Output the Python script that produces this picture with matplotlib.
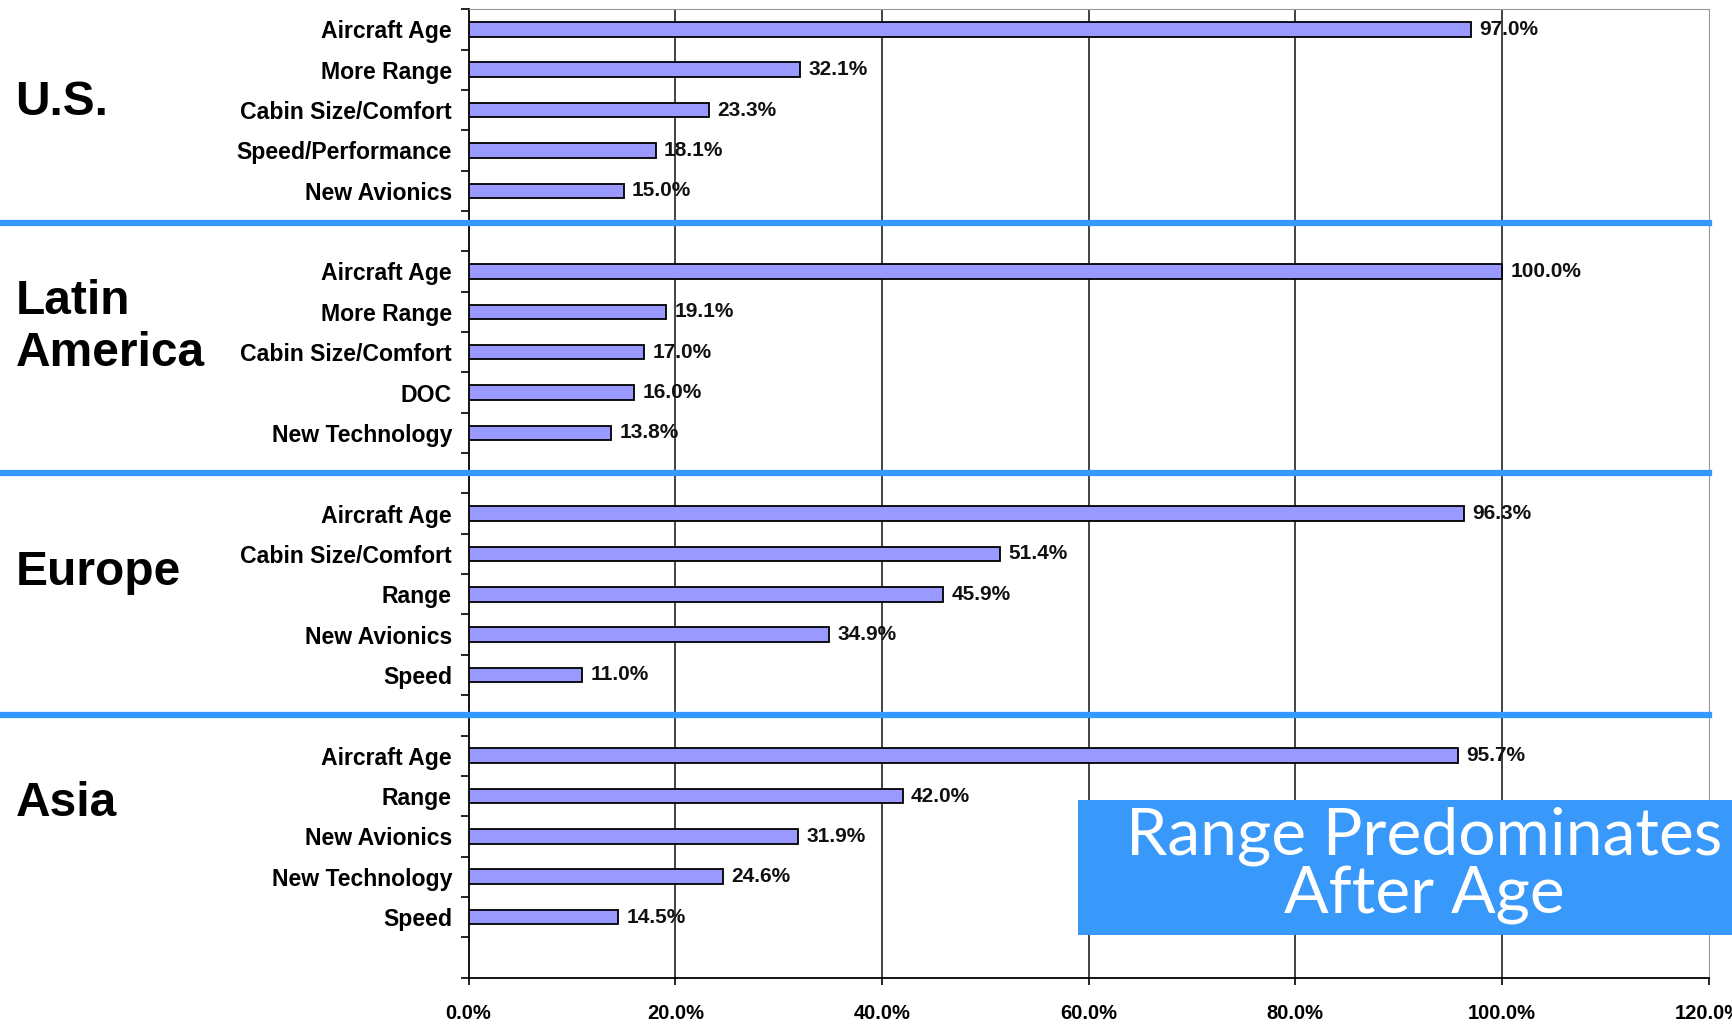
import matplotlib
matplotlib.use('Agg')
import matplotlib.pyplot as plt
import matplotlib.transforms as mtransforms
from matplotlib.patches import Rectangle

# Data
regions = ['U.S.', 'Latin\nAmerica', 'Europe', 'Asia']

us_labels = ['Aircraft Age', 'More Range', 'Cabin Size/Comfort', 'Speed/Performance', 'New Avionics']
us_values = [97.0, 32.1, 23.3, 18.1, 15.0]

latam_labels = ['Aircraft Age', 'More Range', 'Cabin Size/Comfort', 'DOC', 'New Technology']
latam_values = [100.0, 19.1, 17.0, 16.0, 13.8]

europe_labels = ['Aircraft Age', 'Cabin Size/Comfort', 'Range', 'New Avionics', 'Speed']
europe_values = [96.3, 51.4, 45.9, 34.9, 11.0]

asia_labels = ['Aircraft Age', 'Range', 'New Avionics', 'New Technology', 'Speed']
asia_values = [95.7, 42.0, 31.9, 24.6, 14.5]

x_ticks = [0, 20, 40, 60, 80, 100, 120]
callout = 'Range Predominates\nAfter Age'

groups = [(us_labels, us_values), (latam_labels, latam_values),
          (europe_labels, europe_values), (asia_labels, asia_values)]

plt.rcParams['font.family'] = ['Liberation Sans', 'DejaVu Sans']

fig = plt.figure(figsize=(17.33, 10.24), dpi=100)
ax = fig.add_axes([0.2704, 0.0453, 0.9860 - 0.2704, 0.991 - 0.0453])

bar_color = '#9999FF'
sep_color = '#3399FF'

# each region takes 5 slots plus one empty slot
centers, names = [], []
for g, (labels, values) in enumerate(groups):
    pos = [6 * g + i + 0.5 for i in range(len(values))]
    ax.barh(pos, values, height=0.36, color=bar_color, edgecolor='black', linewidth=1.3, zorder=3)
    for y, v in zip(pos, values):
        ax.text(v + 0.8, y, '{:.1f}%'.format(v), va='center', ha='left',
                fontsize=15, fontweight='bold', color='#111111', zorder=4)
    centers += pos
    names += labels

ax.set_ylim(24, 0)
ax.set_xlim(0, 120)

ax.set_yticks(centers)
ax.set_yticklabels(names, fontsize=16.6, fontweight='bold')
ax.set_yticks(range(0, 25), minor=True)
ax.tick_params(axis='y', which='major', length=0, pad=12)
ax.tick_params(axis='y', which='minor', length=6, width=1.2, direction='out')

ax.set_xticks(x_ticks)
ax.set_xticklabels(['{:.1f}%'.format(t) for t in x_ticks], fontsize=14.5, fontweight='bold')
ax.tick_params(axis='x', length=5, width=1.2, pad=14)

for t in x_ticks[1:-1]:
    ax.axvline(t, color='#222222', linewidth=1.2, zorder=1)

for side in ['top', 'right']:
    ax.spines[side].set_color('#999999')
for side in ['left', 'bottom']:
    ax.spines[side].set_linewidth(1.3)

# blue separators across the whole width
trans = mtransforms.blended_transform_factory(fig.transFigure, ax.transData)
sep_y = [5.3, 11.5, 17.5]
for y in sep_y:
    ax.plot([0, 0.986], [y, y], transform=trans, color=sep_color,
            linewidth=4.5, clip_on=False, zorder=5)

# region names
region_y = [0.8997, 0.680, 0.4412, 0.2157]
for name, y in zip(regions, region_y):
    fig.text(0.009, y, name, fontsize=34.5, fontweight='bold', ha='left', va='center',
             linespacing=1.2)

# callout box
fig.patches.append(Rectangle((0.622, 0.0874), 0.4, 0.1316, transform=fig.transFigure,
                             facecolor='#3899FB', edgecolor='none', zorder=10))
fig.text(0.822, 0.1548, callout, color='white', fontsize=47.5, ha='center', va='center',
         family=['Lato', 'DejaVu Sans'], linespacing=0.98, zorder=11)

fig.savefig('out.png', dpi=100)
